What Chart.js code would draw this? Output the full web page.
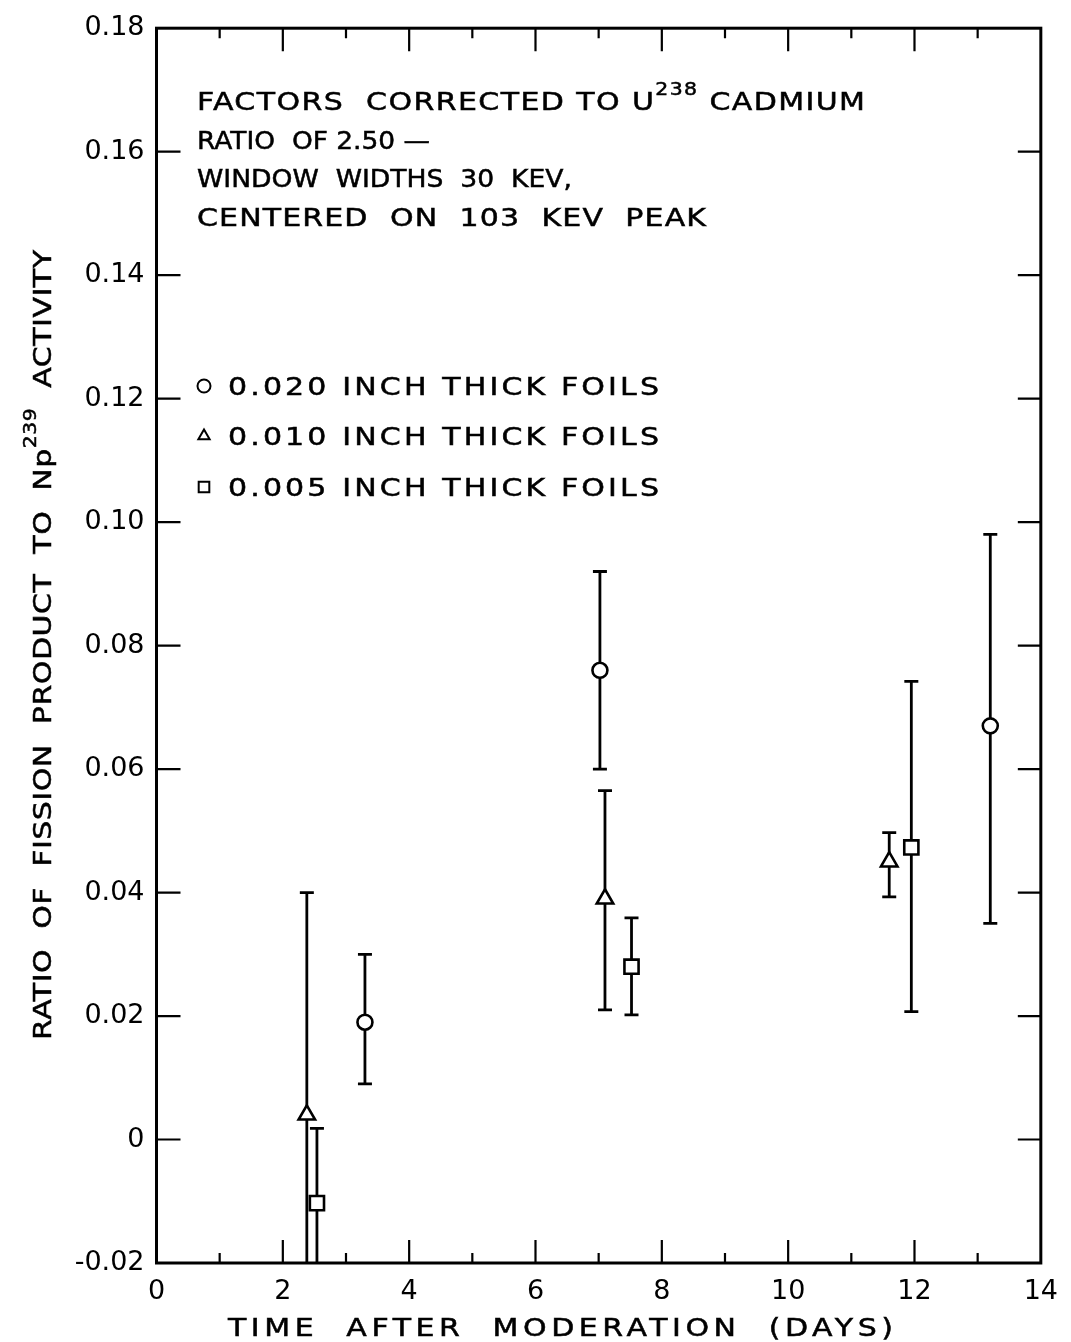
<!DOCTYPE html>
<html>
<head>
<meta charset="utf-8">
<script src="https://cdn.jsdelivr.net/npm/chart.js@4.4.1/dist/chart.umd.min.js"></script>
<style>
  html, body { margin: 0; padding: 0; background: #fff; }
  #c { display: block; }
</style>
</head>
<body>
<canvas id="c" width="1071" height="1342"></canvas>
<script>
const FONT = '"DejaVu Sans", "Liberation Sans", sans-serif';

// 0.020 inch thick foils
const thickX  = [3.3, 7.02, 13.2];
const thickY  = [0.019, 0.076, 0.067];
const thickLo = [0.009, 0.060, 0.035];
const thickHi = [0.030, 0.092, 0.098];

// 0.010 inch thick foils
const midX  = [2.38, 7.1, 11.6];
const midY  = [0.004, 0.039, 0.045];
const midLo = [-0.03, 0.021, 0.0393];
const midHi = [0.040, 0.0565, 0.0497];

// 0.005 inch thick foils
const thinX  = [2.54, 7.52, 11.95];
const thinY  = [-0.0103, 0.028, 0.0473];
const thinLo = [-0.03, 0.0202, 0.0207];
const thinHi = [0.0018, 0.0359, 0.0742];

const legendLabels = ['0.020 INCH THICK FOILS', '0.010 INCH THICK FOILS', '0.005 INCH THICK FOILS'];
const xTitle = 'TIME  AFTER  MODERATION  (DAYS)';
const yTitle = [{ t: 'RATIO  OF  FISSION  PRODUCT  TO  Np' }, { t: '239', sup: true }, { t: '  ACTIVITY' }];
const noteLines = [
  [{ t: 'FACTORS  CORRECTED TO U' }, { t: '238', sup: true }, { t: ' CADMIUM' }],
  [{ t: 'RATIO  OF 2.50 \u2014' }],
  [{ t: 'WINDOW  WIDTHS  30  KEV,' }],
  [{ t: 'CENTERED  ON  103  KEV  PEAK' }]
];

const errLow = [thickLo, midLo, thinLo];
const errHigh = [thickHi, midHi, thinHi];

function pts(xs, ys) { return xs.map((x, i) => ({ x, y: ys[i] })); }

// Draws a run of text segments (with optional superscripts) in a wide lettering
// style, spaced out to end at a given width.
function letterText(ctx, segs, x, yCenter, width, size) {
  const cap = size * 0.73;
  ctx.save();
  ctx.letterSpacing = '0px';
  let nat = 0, chars = 0;
  segs.forEach(s => {
    ctx.font = (s.sup ? size * 0.68 : size) + 'px ' + FONT;
    nat += ctx.measureText(s.t).width;
    chars += s.t.length;
  });
  const k = Math.min(1.2, width / nat);
  const sp = Math.max(0, (width / k - nat) / Math.max(1, chars - 1));
  ctx.translate(x, yCenter + cap / 2);
  ctx.scale(k, 1);
  ctx.textBaseline = 'alphabetic';
  ctx.textAlign = 'left';
  ctx.lineWidth = 0.5;
  ctx.strokeStyle = '#000';
  ctx.fillStyle = '#000';
  ctx.letterSpacing = sp + 'px';
  let cx = 0;
  segs.forEach(s => {
    ctx.font = (s.sup ? size * 0.68 : size) + 'px ' + FONT;
    const dy = s.sup ? -size * 0.6 : 0;
    ctx.fillText(s.t, cx, dy);
    ctx.strokeText(s.t, cx, dy);
    cx += ctx.measureText(s.t).width;
  });
  ctx.restore();
}

const errorBars = {
  id: 'errorBars',
  beforeDatasetsDraw(chart) {
    const { ctx, chartArea: a, scales: { x, y } } = chart;
    ctx.save();
    ctx.beginPath();
    ctx.rect(a.left, a.top, a.right - a.left, a.bottom - a.top);
    ctx.clip();
    ctx.strokeStyle = '#000';
    ctx.lineWidth = 2.8;
    chart.data.datasets.forEach((ds, k) => {
      ds.data.forEach((p, i) => {
        const px = x.getPixelForValue(p.x);
        const lo = y.getPixelForValue(errLow[k][i]);
        const hi = y.getPixelForValue(errHigh[k][i]);
        ctx.beginPath();
        ctx.moveTo(px, lo); ctx.lineTo(px, hi);
        ctx.moveTo(px - 7, lo); ctx.lineTo(px + 7, lo);
        ctx.moveTo(px - 7, hi); ctx.lineTo(px + 7, hi);
        ctx.stroke();
      });
    });
    ctx.restore();
  }
};

const frame = {
  id: 'frame',
  afterDraw(chart) {
    const { ctx, chartArea: a, scales: { x, y } } = chart;
    ctx.save();
    ctx.strokeStyle = '#000';
    ctx.lineWidth = 3;
    ctx.strokeRect(a.left, a.top, a.right - a.left, a.bottom - a.top);
    ctx.lineWidth = 2.2;
    for (let v = 1; v < 14; v++) {
      const px = x.getPixelForValue(v);
      const len = v % 2 === 0 ? 23 : 10;
      ctx.beginPath();
      ctx.moveTo(px, a.bottom); ctx.lineTo(px, a.bottom - len);
      ctx.moveTo(px, a.top); ctx.lineTo(px, a.top + len);
      ctx.stroke();
    }
    y.ticks.forEach(t => {
      if (t.value <= y.min + 1e-9 || t.value >= y.max - 1e-9) return;
      const py = y.getPixelForValue(t.value);
      ctx.beginPath();
      ctx.moveTo(a.left, py); ctx.lineTo(a.left + 24, py);
      ctx.moveTo(a.right, py); ctx.lineTo(a.right - 23, py);
      ctx.stroke();
    });

    // note block
    const noteWidths = [668, 233, 375, 509];
    noteLines.forEach((segs, i) => letterText(ctx, segs, 197, 101 + i * 38.5, noteWidths[i], 25));

    // legend
    const legY = [386, 436, 487];
    const markers = ['circle', 'triangle', 'rect'];
    legY.forEach((ly, i) => {
      ctx.strokeStyle = '#000';
      ctx.fillStyle = '#fff';
      ctx.lineWidth = 2;
      Chart.helpers.drawPoint(ctx, { pointStyle: markers[i], radius: markers[i] === 'rect' ? 7.5 : 6.5, borderWidth: 2 }, 204, ly);
      letterText(ctx, [{ t: legendLabels[i] }], 228, ly, 431, 25);
    });

    // axis titles
    letterText(ctx, [{ t: xTitle }], 228, 1327, 665, 25);
    ctx.translate(42, 1040);
    ctx.rotate(-Math.PI / 2);
    letterText(ctx, yTitle, 0, 0, 790, 25);
    ctx.restore();
  }
};

new Chart(document.getElementById('c'), {
  type: 'scatter',
  data: {
    datasets: [
      { label: legendLabels[0], data: pts(thickX, thickY), pointStyle: 'circle', pointRadius: 7.5 },
      { label: legendLabels[1], data: pts(midX, midY), pointStyle: 'triangle', pointRadius: 9.5 },
      { label: legendLabels[2], data: pts(thinX, thinY), pointStyle: 'rect', pointRadius: 10 }
    ].map(d => Object.assign(d, {
      backgroundColor: '#fff', borderColor: '#000', pointBorderWidth: 2.6,
      pointHoverRadius: d.pointRadius
    }))
  },
  options: {
    responsive: false,
    animation: false,
    events: [],
    layout: { padding: { left: 0, top: 19, right: 26, bottom: 0 } },
    plugins: { legend: { display: false }, tooltip: { enabled: false } },
    scales: {
      x: {
        type: 'linear', min: 0, max: 14,
        grid: { display: false, drawTicks: false }, border: { display: false },
        ticks: { stepSize: 2, padding: 13, color: '#000', font: { family: FONT, size: 27 }, maxRotation: 0 },
        afterFit(s) { s.height = 79; }
      },
      y: {
        type: 'linear', min: -0.02, max: 0.18,
        grid: { display: false, drawTicks: false }, border: { display: false },
        ticks: {
          stepSize: 0.02, padding: 12, color: '#000', font: { family: FONT, size: 27 },
          callback: v => Math.abs(v) < 1e-9 ? '0' : v.toFixed(2)
        },
        afterFit(s) { s.width = 156.5; }
      }
    }
  },
  plugins: [errorBars, frame]
});
</script>
</body>
</html>
